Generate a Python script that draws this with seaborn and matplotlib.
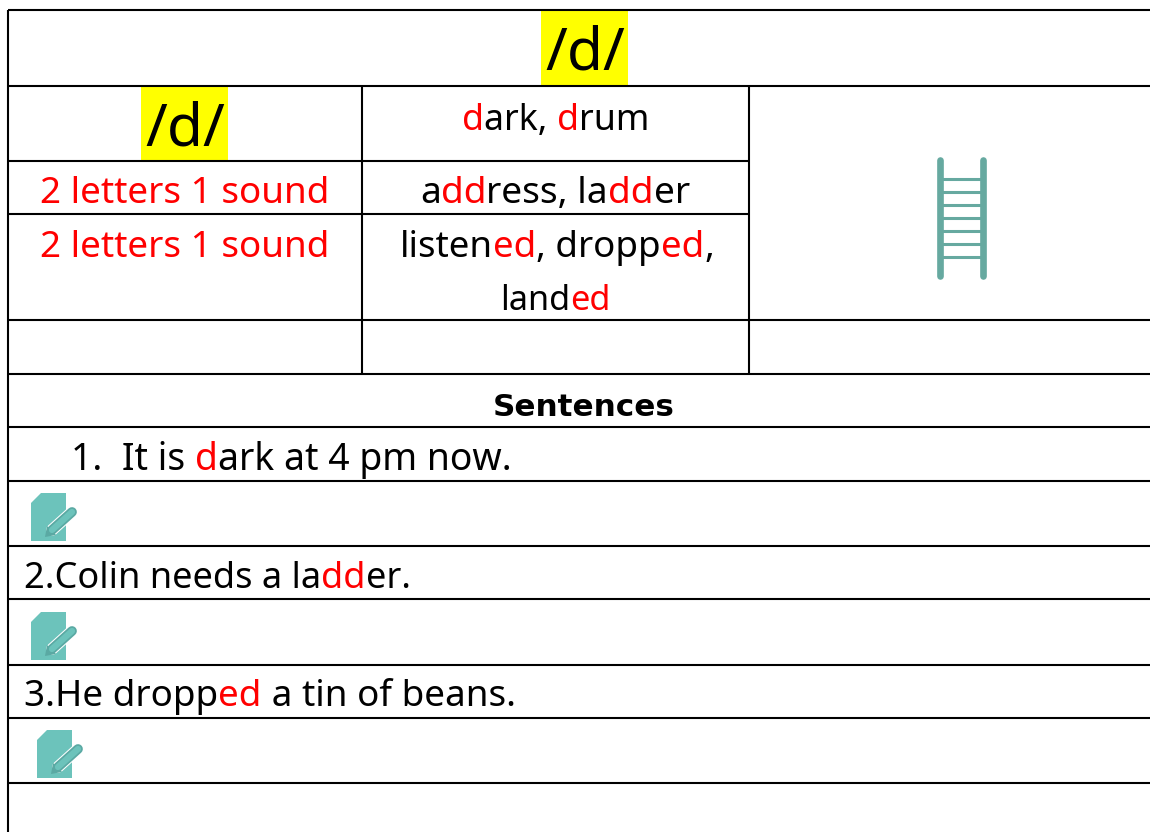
import matplotlib
matplotlib.use('Agg')
import matplotlib.pyplot as plt
from matplotlib.patches import Polygon, Rectangle
import pandas as pd
import seaborn as sns

RED = '#ff0000'
BLACK = '#000000'
TEAL = '#66a9a0'
NOTE = '#6cc3bb'
NOTE_DARK = '#5aa9a3'

# table text, split into coloured pieces
phoneme = [('/d/', BLACK)]
letters = [('2 letters 1 sound', RED)]
word_row1 = [('d', RED), ('ark, ', BLACK), ('d', RED), ('rum', BLACK)]
word_row2 = [('a', BLACK), ('dd', RED), ('ress, la', BLACK), ('dd', RED), ('er', BLACK)]
word_row3 = [('listen', BLACK), ('ed', RED), (', dropp', BLACK), ('ed', RED), (',', BLACK)]
word_row4 = [('land', BLACK), ('ed', RED)]
heading = [('Sentences', BLACK)]
sentence1 = [('1.  It is ', BLACK), ('d', RED), ('ark at 4 pm now.', BLACK)]
sentence2 = [('2.Colin needs a la', BLACK), ('dd', RED), ('er.', BLACK)]
sentence3 = [('3.He dropp', BLACK), ('ed', RED), (' a tin of beans.', BLACK)]

# table rules, in pixels of the page
full_rows = [10, 86, 320, 374, 427, 481, 546, 599, 665, 718, 783]
short_rows = [160.5, 213.5]  # the ladder cell is merged, these stop at its edge
col_lines = [8, 362, 749]
rung_rows = [179, 192, 205, 218, 231, 244, 257]

sns.set_theme(style='white')
plt.rcParams['font.family'] = ['Noto Sans', 'DejaVu Sans']

fig = plt.figure(figsize=(11.5, 8.32), dpi=100)
ax = fig.add_axes([0, 0, 1, 1])


def draw_rules(rules, color, width, cap='butt'):
    rows = []
    for i, (x0, y0, x1, y1) in enumerate(rules):
        rows.append({'rule': i, 'x': x0, 'y': y0})
        rows.append({'rule': i, 'x': x1, 'y': y1})
    sns.lineplot(data=pd.DataFrame(rows), x='x', y='y', units='rule', estimator=None,
                 sort=False, color=color, linewidth=width, solid_capstyle=cap,
                 legend=False, ax=ax)


def text_width(s, size, weight, family):
    t = ax.text(0, 0, s, fontsize=size, fontweight=weight, family=family)
    w = t.get_window_extent(fig.canvas.get_renderer()).width
    t.remove()
    return w


def draw_line(pieces, left, right, baseline, weight='normal', family='Noto Sans'):
    # size the line to the width it has on the page, then lay out piece by piece
    full = ''.join(p[0] for p in pieces)
    size = 20 * (right - left) / text_width(full, 20, weight, family)
    marker = text_width('x', size, weight, family)
    prefix = ''
    for piece, color in pieces:
        offset = text_width(prefix + 'x', size, weight, family) - marker if prefix else 0
        ax.text(left + offset, baseline, piece, color=color, fontsize=size,
                fontweight=weight, family=family, va='baseline', ha='left')
        prefix += piece


def draw_note(dx, dy):
    page = [(41, 493), (66, 493), (66, 541), (31, 541), (31, 503)]
    ax.add_patch(Polygon([(x + dx, y + dy) for x, y in page], closed=True,
                         facecolor=NOTE, edgecolor='none', zorder=3))
    for color, lw, z in [('white', 8.5, 4), (NOTE_DARK, 7, 5), (NOTE, 4.5, 6)]:
        ax.plot([52 + dx, 72 + dx], [530 + dy, 512 + dy], color=color, linewidth=lw,
                solid_capstyle='round', zorder=z)
    ax.add_patch(Polygon([(45 + dx, 537 + dy), (47 + dx, 526 + dy), (56 + dx, 535 + dy)],
                         closed=True, facecolor=NOTE_DARK, edgecolor='none', zorder=5))


# highlights behind the two /d/
ax.add_patch(Rectangle((541, 11), 87, 74, facecolor='#ffff00', edgecolor='none', zorder=0))
ax.add_patch(Rectangle((141, 87), 87, 73, facecolor='#ffff00', edgecolor='none', zorder=0))

# grid of the table
h_rules = [(col_lines[0], y, 1150, y) for y in full_rows]
h_rules += [(col_lines[0], y, col_lines[2], y) for y in short_rows]
v_rules = [(col_lines[0], full_rows[0], col_lines[0], 832)]
v_rules += [(x, full_rows[1], x, full_rows[3]) for x in col_lines[1:]]
draw_rules(h_rules + v_rules, BLACK, 1.5)

# ladder
rails = [(940, 160, 940, 276), (983, 160, 983, 276)]
rungs = [(940, y, 983, y) for y in rung_rows]
draw_rules(rungs, TEAL, 2.2)
draw_rules(rails, TEAL, 4.8, cap='round')

# writing icons
draw_note(0, 0)
draw_note(0, 119)
draw_note(6, 237)

draw_line(phoneme, 545, 625, 70)
draw_line(phoneme, 145, 225, 145)
draw_line(letters, 40, 330, 203)
draw_line(letters, 40, 330, 257)
draw_line(word_row1, 462, 650, 130)
draw_line(word_row2, 420, 691, 203)
draw_line(word_row3, 400, 714, 257)
draw_line(word_row4, 500, 611, 310)
draw_line(heading, 493, 674, 416, weight='bold', family='DejaVu Sans')
draw_line(sentence1, 71, 512, 470)
draw_line(sentence2, 24, 411, 588)
draw_line(sentence3, 24, 515, 706)

ax.set_xlim(0, 1150)
ax.set_ylim(832, 0)
ax.set_xlabel('')
ax.set_ylabel('')
ax.axis('off')

fig.savefig('out.png', dpi=100, facecolor='white')
